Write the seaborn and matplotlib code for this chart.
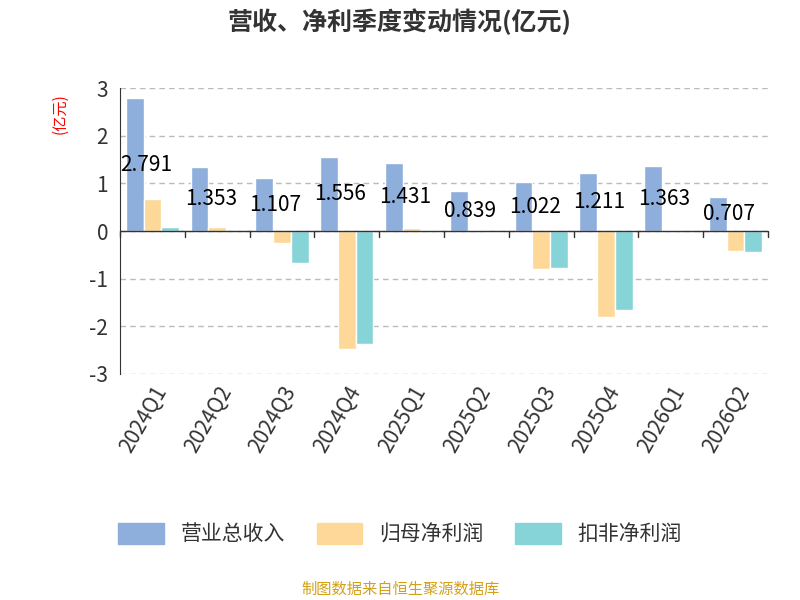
import matplotlib.pyplot as plt
import numpy as np
import pandas as pd
import seaborn as sns
from matplotlib.patches import FancyBboxPatch

sns.set_style("white")
plt.rcParams["font.family"] = ["Noto Sans CJK SC", "DejaVu Sans"]
plt.rcParams["axes.unicode_minus"] = False

quarters = ["2024Q1", "2024Q2", "2024Q3", "2024Q4", "2025Q1",
            "2025Q2", "2025Q3", "2025Q4", "2026Q1", "2026Q2"]
revenue = [2.791, 1.353, 1.107, 1.556, 1.431, 0.839, 1.022, 1.211, 1.363, 0.707]
net_profit = [0.68, 0.08, -0.25, -2.48, 0.06, 0.03, -0.80, -1.80, 0.02, -0.43]
net_profit_adj = [0.08, 0.01, -0.67, -2.38, 0.02, -0.02, -0.77, -1.67, 0.01, -0.45]
series = ["营业总收入", "归母净利润", "扣非净利润"]
colors = ["#8eaedc", "#fdd898", "#87d4d8"]

df = pd.DataFrame({
    "quarter": quarters * 3,
    "value": revenue + net_profit + net_profit_adj,
    "series": np.repeat(series, len(quarters)),
})

fig = plt.figure(figsize=(8, 6), dpi=100)
ax = fig.add_axes([0.15, 0.377, 0.81, 0.476])
sns.barplot(data=df, x="quarter", y="value", hue="series", palette=colors,
            width=0.82, ax=ax, legend=False, saturation=1)

ax.set_ylim(-3, 3)
ax.set_yticks([-3, -2, -1, 0, 1, 2, 3])
ax.tick_params(axis="y", labelsize=15, colors="#333333", length=5)
ax.yaxis.grid(True, linestyle=(0, (4, 3)), color="#bbbbbb", lw=1)
ax.set_axisbelow(True)
ax.set_xlabel("")
ax.set_ylabel("")
for s in ["top", "right", "bottom"]:
    ax.spines[s].set_visible(False)
ax.spines["left"].set_color("#333333")
ax.axhline(0, color="#333333", lw=1)
ax.set_xlim(-0.5, len(quarters) - 0.5)
ax.set_xticks(range(len(quarters)))
ax.set_xticklabels(quarters, rotation=60, ha="right", rotation_mode="anchor",
                   fontsize=15, color="#333333")
ax.tick_params(axis="x", length=0, pad=6)
for i in range(len(quarters) + 1):
    ax.plot([i - 0.5, i - 0.5], [0, -0.12], color="#333333", lw=1, clip_on=False)

for i, v in enumerate(revenue):
    ax.text(i - 0.1, v / 2, f"{v:.3f}", ha="center", va="center", fontsize=15, color="black")

fig.text(0.075, 0.81, "(亿元)", color="red", fontsize=11, rotation=90, ha="center", va="center")
fig.text(0.5, 0.963, "营收、净利季度变动情况(亿元)", ha="center", va="center",
         fontsize=18, fontweight="bold", color="#333333")

handles = [FancyBboxPatch((0, 0), 1, 1, boxstyle="round,pad=0.1", color=c) for c in colors]
fig.legend(handles, series, loc="center", bbox_to_anchor=(0.5, 0.11), ncol=3,
           frameon=False, fontsize=15, handlelength=2.2, handleheight=1.2,
           columnspacing=1.5, labelcolor="#333333")
fig.text(0.5, 0.018, "制图数据来自恒生聚源数据库", ha="center", va="center",
         fontsize=11, color="#d4a017")

fig.savefig("out.png", dpi=100)
